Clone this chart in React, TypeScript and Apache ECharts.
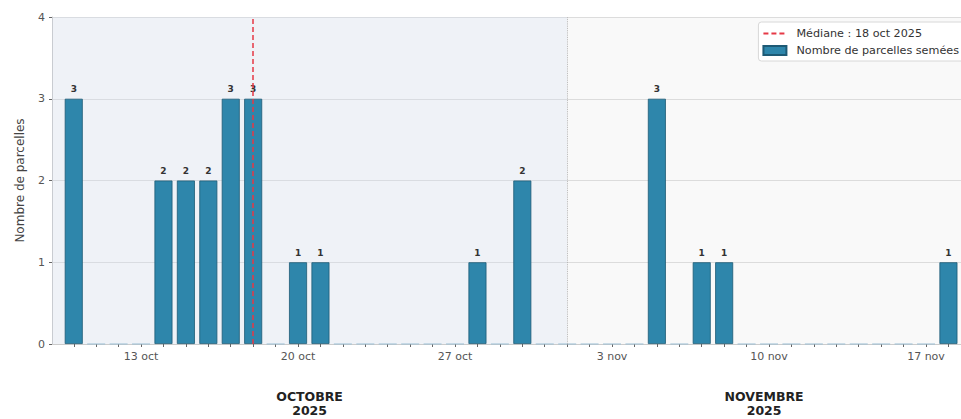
import React, { useEffect, useRef } from "react";
import * as echarts from "echarts";

const dates = [
  "2025-10-10", "2025-10-11", "2025-10-12", "2025-10-13", "2025-10-14",
  "2025-10-15", "2025-10-16", "2025-10-17", "2025-10-18", "2025-10-19",
  "2025-10-20", "2025-10-21", "2025-10-22", "2025-10-23", "2025-10-24",
  "2025-10-25", "2025-10-26", "2025-10-27", "2025-10-28", "2025-10-29",
  "2025-10-30", "2025-10-31", "2025-11-01", "2025-11-02", "2025-11-03",
  "2025-11-04", "2025-11-05", "2025-11-06", "2025-11-07", "2025-11-08",
  "2025-11-09", "2025-11-10", "2025-11-11", "2025-11-12", "2025-11-13",
  "2025-11-14", "2025-11-15", "2025-11-16", "2025-11-17", "2025-11-18",
];
const counts = [
  3, 0, 0, 0, 2, 2, 2, 3, 3, 0,
  1, 1, 0, 0, 0, 0, 0, 0, 1, 0,
  2, 0, 0, 0, 0, 0, 3, 0, 1, 1,
  0, 0, 0, 0, 0, 0, 0, 0, 0, 1,
];
const tickDates = ["2025-10-13", "2025-10-20", "2025-10-27", "2025-11-03", "2025-11-10", "2025-11-17"];
const tickLabels = ["13 oct", "20 oct", "27 oct", "3 nov", "10 nov", "17 nov"];
const monthStart = ["2025-10-01", "2025-11-01"];
const monthLabels = ["OCTOBRE\n2025", "NOVEMBRE\n2025"];
const medianDate = "2025-10-18";
const medianLabel = "Médiane : 18 oct 2025";
const seriesName = "Nombre de parcelles semées";
const yTicks = [0, 1, 2, 3, 4];

const dayNum = (s: string) => {
  const [y, m, d] = s.split("-").map(Number);
  return (Date.UTC(y, m - 1, d) - Date.UTC(2025, 9, 1)) / 86400000;
};

export default function App() {
  const ref = useRef<HTMLDivElement>(null);
  useEffect(() => {
    if (!ref.current) return;
    const chart = echarts.init(ref.current, null, { renderer: "svg" });
    const xs = dates.map(dayNum);
    const xMin = xs[0] - 0.97;
    const xMax = xs[xs.length - 1] + 0.56;
    const novStart = dayNum(monthStart[1]);
    const monthMids = [(xMin + novStart) / 2, (novStart + xMax) / 2];
    const tickXs = tickDates.map(dayNum);
    const font = "DejaVu Sans";

    const baseX = {
      type: "value",
      min: xMin,
      max: xMax,
      gridIndex: 0,
      splitLine: { show: false },
    };

    chart.setOption({
      animation: false,
      textStyle: { fontFamily: font },
      grid: { left: 52, right: 0, top: 17, bottom: 75, containLabel: false },
      legend: {
        orient: "vertical",
        right: -6,
        top: 22,
        align: "left",
        itemWidth: 23,
        itemHeight: 9,
        itemGap: 6,
        padding: [6, 8, 5, 4],
        backgroundColor: "rgba(255,255,255,0.9)",
        borderColor: "#d8d8d8",
        borderWidth: 1,
        borderRadius: 3,
        textStyle: { fontSize: 11.2, color: "#333", fontFamily: font, padding: [0, 0, 0, 5] },
        data: [
          { name: medianLabel, itemStyle: { opacity: 0 } },
          { name: seriesName, icon: "rect" },
        ],
      },
      xAxis: [
        {
          ...baseX,
          position: "bottom",
          axisLine: { show: true, lineStyle: { color: "#cccccc" } },
          axisTick: {
            show: true,
            length: 3,
            lineStyle: { color: "#666" },
            customValues: xs,
          },
          axisLabel: {
            show: true,
            margin: 7,
            fontSize: 11,
            color: "#555",
            customValues: tickXs,
            formatter: (v: number) => {
              const i = tickXs.findIndex((t) => Math.abs(t - v) < 1e-6);
              return i >= 0 ? tickLabels[i] : "";
            },
          },
        },
        {
          ...baseX,
          position: "bottom",
          offset: 37,
          axisLine: { show: false },
          axisTick: { show: false },
          axisLabel: {
            show: true,
            margin: 8,
            fontSize: 12.5,
            lineHeight: 14,
            fontWeight: "bold",
            color: "#222",
            customValues: monthMids,
            formatter: (v: number) => {
              const i = monthMids.findIndex((t) => Math.abs(t - v) < 1e-6);
              return i >= 0 ? monthLabels[i] : "";
            },
          },
        },
      ],
      yAxis: {
        type: "value",
        min: 0,
        max: 4,
        interval: 1,
        name: "Nombre de parcelles",
        nameLocation: "middle",
        nameGap: 26,
        nameTextStyle: { fontSize: 12, color: "#444", fontFamily: font },
        axisLine: { show: true, lineStyle: { color: "#cccccc" } },
        axisTick: { show: true, length: 3, lineStyle: { color: "#666" } },
        axisLabel: { fontSize: 11, color: "#555", margin: 7, formatter: (v: number) => (yTicks.includes(v) ? String(v) : "") },
        splitLine: { show: true, lineStyle: { color: "#e2e2e2", width: 1 } },
      },
      series: [
        {
          name: medianLabel,
          type: "line",
          xAxisIndex: 0,
          data: [],
          symbol: "none",
          showSymbol: false,
          itemStyle: { color: "#E63946" },
          lineStyle: { color: "#E63946", type: [5, 3], width: 1.5 },
          z: 1,
          markArea: {
            silent: true,
            data: [
              [{ xAxis: xMin, itemStyle: { color: "rgba(190,205,222,0.25)" } }, { xAxis: novStart }],
              [{ xAxis: novStart, itemStyle: { color: "rgba(0,0,0,0.025)" } }, { xAxis: xMax }],
            ],
          },
        },
        {
          name: "zero",
          type: "scatter",
          xAxisIndex: 0,
          symbol: "rect",
          symbolSize: [18, 1.3],
          itemStyle: { color: "#9dc1d4" },
          silent: true,
          z: 3,
          data: xs.map((x, i) => [x, counts[i]]).filter((p) => p[1] === 0),
        },
        {
          name: seriesName,
          type: "bar",
          xAxisIndex: 0,
          barWidth: 18,
          itemStyle: { color: "#2E86AB", borderColor: "#1d5a75", borderWidth: 0.8 },
          label: {
            show: true,
            position: "top",
            distance: 5,
            fontSize: 9,
            fontWeight: "bold",
            color: "#333",
            formatter: (p: any) => String(p.value[1]),
          },
          data: xs.map((x, i) => [x, counts[i]]).filter((p) => p[1] > 0),
          z: 4,
          markLine: {
            silent: true,
            symbol: "none",
            label: { show: false },
            data: [
              { xAxis: dayNum(medianDate), lineStyle: { color: "#E63946", type: [5, 3], width: 1.5 } },
              { xAxis: novStart, lineStyle: { color: "#b0b0b0", type: "dotted", width: 0.9 } },
            ],
          },
        },
      ],
    });
    return () => chart.dispose();
  }, []);
  return (
    <div
      ref={ref}
      style={{ position: "fixed", left: 0, top: 0, width: 961, height: 419, background: "#fff" }}
    />
  );
}
